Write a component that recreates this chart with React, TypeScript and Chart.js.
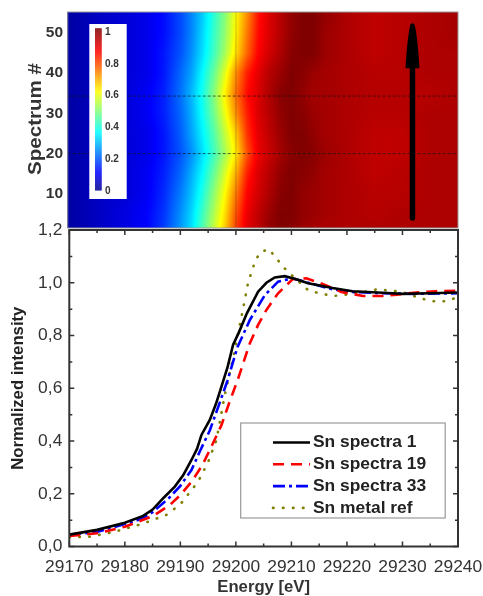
import React, { useEffect, useRef } from "react";
import { Chart, registerables } from "chart.js";

Chart.register(...registerables);

// ---------- Line panel data ----------
const blackE = [29170,29175,29180,29183.3,29185,29187,29189,29190.5,29192,29193,29193.8,29195.3,29196.4,29197.4,29198.5,29199.5,29200.5,29202,29204,29205.5,29207,29208.8,29211,29213,29217.4,29221,29226.4,29230,29235,29240];
const blackV = [0.045,0.063,0.09,0.116,0.14,0.185,0.227,0.27,0.328,0.37,0.423,0.48,0.54,0.606,0.68,0.765,0.81,0.885,0.966,1.0,1.02,1.025,1.012,0.998,0.98,0.968,0.962,0.958,0.96,0.963];
const redE = [29170,29175,29180,29185,29188,29190,29192,29194,29195.3,29197.4,29198.8,29200.3,29202.5,29204,29205.5,29207.6,29210.2,29212.7,29216.3,29219,29222.9,29226.4,29229,29232.5,29236,29240];
const redV = [0.04,0.05,0.075,0.115,0.155,0.195,0.245,0.31,0.366,0.46,0.545,0.63,0.77,0.84,0.897,0.96,1.013,1.017,0.99,0.965,0.95,0.95,0.955,0.963,0.968,0.97];
const blueE = [29170,29175,29180,29183,29185,29188,29190,29192,29193.5,29195.3,29197,29198.5,29200.3,29202.5,29205.2,29207.6,29210.2,29213,29217.4,29221,29226.4,29232,29240];
const blueV = [0.045,0.055,0.085,0.105,0.13,0.185,0.23,0.29,0.36,0.44,0.54,0.63,0.757,0.858,0.953,1.004,1.017,1.0,0.975,0.965,0.96,0.958,0.96];
const oliveE = [29170,29173.7,29178,29183,29187.5,29190,29193.2,29195,29196.5,29198,29199.8,29201,29202.2,29203.4,29204.3,29205.9,29207.3,29208.5,29210,29213,29215,29217.5,29219.3,29222.9,29225.4,29229.8,29233.4,29235.5,29237.7,29240];
const oliveV = [0.035,0.037,0.055,0.085,0.12,0.16,0.246,0.32,0.404,0.574,0.745,0.87,1.0,1.078,1.114,1.128,1.093,1.06,1.03,0.972,0.96,0.95,0.953,0.965,0.975,0.966,0.94,0.93,0.93,0.945];
const legendLabels = ["Sn spectra 1", "Sn spectra 19", "Sn spectra 33", "Sn metal ref"];

// ---------- Heat map data ----------
const heatEnergies = [29170,29175,29180,29184,29187,29190,29192,29194,29196,29198,29200,29202,29204,29206,29208,29210,29212,29214,29216,29220,29225,29230,29235,29240];
const heatSpectra = [1,5,10,15,20,25,30,35,40,45,50,55];
const row1 = [.02,.05,.08,.11,.17,.26,.33,.44,.55,.66,.80,.89,.93,.98,1.0,.99,.97,.96,.95,.95,.95,.95,.95,.95];
const row5 = [.02,.05,.08,.11,.16,.25,.32,.42,.53,.64,.78,.88,.93,.97,1.0,1.0,.98,.97,.96,.95,.94,.95,.95,.95];
const row10 = [.02,.05,.07,.10,.15,.23,.30,.39,.50,.61,.74,.86,.91,.95,.99,1.0,.98,.97,.96,.95,.94,.94,.95,.95];
const row15 = [.02,.05,.07,.10,.14,.21,.28,.36,.46,.57,.69,.83,.90,.94,.98,1.0,.99,.98,.96,.95,.93,.94,.95,.95];
const row20 = [.02,.05,.07,.09,.13,.19,.25,.33,.42,.52,.63,.78,.88,.92,.96,.99,1.0,.99,.97,.95,.93,.93,.95,.95];
const row25 = [.02,.05,.07,.09,.13,.20,.27,.35,.44,.55,.66,.81,.89,.93,.97,1.0,1.0,.98,.96,.95,.93,.93,.95,.95];
const row30 = [.02,.05,.07,.10,.14,.21,.28,.37,.47,.59,.72,.83,.90,.94,.98,1.0,.99,.97,.96,.95,.94,.94,.95,.95];
const row35 = [.02,.05,.07,.10,.14,.22,.29,.38,.49,.62,.75,.85,.90,.95,.99,1.0,.98,.96,.96,.95,.94,.94,.94,.95];
const row40 = [.02,.05,.07,.09,.13,.21,.27,.36,.46,.58,.72,.83,.89,.94,.97,1.0,.99,.97,.96,.95,.94,.94,.95,.95];
const row45 = [.02,.05,.07,.09,.13,.19,.25,.33,.42,.52,.64,.76,.86,.91,.95,.99,1.0,1.0,.97,.95,.93,.94,.95,.95];
const row50 = [.02,.05,.07,.09,.12,.18,.24,.32,.41,.50,.62,.74,.85,.90,.94,.98,1.0,1.0,.97,.95,.93,.94,.95,.96];
const row55 = [.02,.05,.07,.09,.12,.18,.24,.31,.40,.49,.61,.72,.84,.90,.94,.98,1.0,1.0,.98,.95,.93,.94,.95,.96];
const heatRows = [row1,row5,row10,row15,row20,row25,row30,row35,row40,row45,row50,row55];
const spectrumTicks = [10,20,30,40,50];
const dashedSpectra = [20, 34.3];
const colorbarLabels = ["1","0.8","0.6","0.4","0.2","0"];
const spectrumTitle = "Spectrum #";

const jetStops: [number, number[]][] = [
  [0, [0,0,143]], [0.11, [0,0,255]], [0.36, [0,255,255]], [0.61, [255,255,0]], [0.86, [255,0,0]], [1, [128,0,0]],
];
function jet(v: number) {
  const c = Math.max(0, Math.min(1, v));
  for (let i = 1; i < jetStops.length; i++) {
    if (c <= jetStops[i][0]) {
      const [a, ca] = jetStops[i-1], [b, cb] = jetStops[i];
      const t = (c - a) / (b - a);
      return `rgb(${ca.map((k, j) => Math.round(k + (cb[j] - k) * t)).join(",")})`;
    }
  }
  return "rgb(128,0,0)";
}
function seg(list: number[], v: number) {
  let i = 0;
  while (i < list.length - 2 && v > list[i + 1]) i++;
  const t = Math.max(0, Math.min(1, (v - list[i]) / (list[i + 1] - list[i])));
  return [i, t];
}
function heatAt(e: number, s: number) {
  const [i, ti] = seg(heatEnergies, e);
  const [j, tj] = seg(heatSpectra, s);
  const a = heatRows[j][i] * (1 - ti) + heatRows[j][i + 1] * ti;
  const b = heatRows[j + 1][i] * (1 - ti) + heatRows[j + 1][i + 1] * ti;
  return a * (1 - tj) + b * tj;
}

const heatPlugin = {
  id: "heat",
  beforeDatasetsDraw(chart: any) {
    const { ctx, chartArea: a, scales } = chart;
    ctx.save();
    for (let y = Math.floor(a.top); y < a.bottom; y++) {
      for (let x = Math.floor(a.left); x < a.right; x++) {
        ctx.fillStyle = jet(heatAt(scales.x.getValueForPixel(x + 0.5), scales.y.getValueForPixel(y + 0.5)));
        ctx.fillRect(x, y, 1, 1);
      }
    }
    ctx.restore();
  },
  afterDatasetsDraw(chart: any) {
    const { ctx, chartArea: a, scales } = chart;
    ctx.save();
    // arrow head
    const ax = scales.x.getPixelForValue(29231.8);
    const baseY = scales.y.getPixelForValue(41.2);
    const tipY = scales.y.getPixelForValue(52.4);
    ctx.fillStyle = "#000";
    ctx.beginPath();
    ctx.moveTo(ax - 7, baseY);
    ctx.quadraticCurveTo(ax - 5, tipY + 12, ax - 2, tipY + 1);
    ctx.quadraticCurveTo(ax, tipY - 1, ax + 2, tipY + 1);
    ctx.quadraticCurveTo(ax + 5, tipY + 12, ax + 7, baseY);
    ctx.closePath();
    ctx.fill();
    // colour bar
    const bx = 89.3, by = 24, bw = 37.4, bh = 175;
    ctx.fillStyle = "#fff";
    ctx.fillRect(bx, by, bw, bh);
    const top = 28.3, bot = 190;
    for (let y = top; y < bot; y++) {
      ctx.fillStyle = jet(1 - (y - top) / (bot - top));
      ctx.fillRect(95, y, 6.7, 1.2);
    }
    ctx.fillStyle = "#333";
    ctx.font = "bold 10px 'Liberation Sans'";
    ctx.textBaseline = "middle";
    ctx.textAlign = "left";
    colorbarLabels.forEach((t, i) => ctx.fillText(t, 105, 32 + i * 31.8));
    // frame
    ctx.strokeStyle = "#999";
    ctx.lineWidth = 1;
    ctx.strokeRect(a.left, a.top, a.right - a.left, a.bottom - a.top);
    // axis title, stretched along its length like the reference
    ctx.fillStyle = "#333";
    ctx.font = "bold 18px 'Liberation Sans'";
    ctx.textAlign = "center";
    const w = ctx.measureText(spectrumTitle).width;
    ctx.translate(36, 119);
    ctx.rotate(-Math.PI / 2);
    ctx.scale(112 / w, 1);
    ctx.fillText(spectrumTitle, 0, 0);
    ctx.restore();
  },
};

const framePlugin = {
  id: "frame",
  afterDatasetsDraw(chart: any) {
    const { ctx, chartArea: a, scales } = chart;
    ctx.save();
    ctx.strokeStyle = "#333";
    ctx.lineWidth = 2;
    ctx.strokeRect(a.left, a.top, a.right - a.left, a.bottom - a.top);
    ctx.lineWidth = 1.5;
    ctx.beginPath();
    scales.x.ticks.forEach((t: any) => {
      const p = scales.x.getPixelForValue(t.value);
      const len = t.value % 10 === 0 ? 5 : 3;
      ctx.moveTo(p, a.top); ctx.lineTo(p, a.top + len);
      ctx.moveTo(p, a.bottom); ctx.lineTo(p, a.bottom - len);
    });
    scales.y.ticks.forEach((t: any) => {
      const p = scales.y.getPixelForValue(t.value);
      const len = Math.round(t.value * 10) % 2 === 0 ? 5 : 3;
      ctx.moveTo(a.left, p); ctx.lineTo(a.left + len, p);
      ctx.moveTo(a.right, p); ctx.lineTo(a.right - len, p);
    });
    ctx.stroke();

    // legend
    const bx = 240.7, by = 423 - 215, bw = 204.5, bh = 95;
    ctx.fillStyle = "#fff";
    ctx.fillRect(bx, by, bw, bh);
    ctx.strokeStyle = "#999";
    ctx.lineWidth = 1.2;
    ctx.strokeRect(bx, by, bw, bh);
    ctx.font = "bold 17.4px 'Liberation Sans'";
    ctx.textBaseline = "middle";
    ctx.textAlign = "left";
    chart.data.datasets.forEach((d: any, i: number) => {
      const y = by + 19.5 + i * 21.8;
      ctx.strokeStyle = d.borderColor;
      ctx.lineWidth = d.borderWidth;
      ctx.lineCap = d.borderCapStyle || "butt";
      ctx.setLineDash(d.borderDash || []);
      ctx.beginPath();
      ctx.moveTo(273, y);
      ctx.lineTo(310, y);
      ctx.stroke();
      ctx.setLineDash([]);
      ctx.fillStyle = "#222";
      ctx.fillText(legendLabels[i], 313, y);
    });
    ctx.restore();
  },
};

const zip = (xs: number[], ys: number[]) => xs.map((x, i) => ({ x, y: ys[i] }));
const fontStack = "'Liberation Sans'";

export default function App() {
  const topRef = useRef<HTMLCanvasElement>(null);
  const botRef = useRef<HTMLCanvasElement>(null);
  useEffect(() => {
    const top = new Chart(topRef.current!, {
      type: "scatter",
      plugins: [heatPlugin],
      data: {
        datasets: [
          ...dashedSpectra.map((s) => ({
            data: [{ x: 29169.7, y: s }, { x: 29240, y: s }],
            showLine: true, pointRadius: 0, borderColor: "rgba(20,20,20,0.65)", borderWidth: 1, borderDash: [3, 2],
          })),
          {
            data: [{ x: 29200, y: 1.5 }, { x: 29200, y: 55.2 }],
            showLine: true, pointRadius: 0, borderColor: "rgba(40,40,40,0.25)", borderWidth: 1,
          },
          {
            data: [{ x: 29231.8, y: 4 }, { x: 29231.8, y: 42 }],
            showLine: true, pointRadius: 0, borderColor: "#000", borderWidth: 5.5, borderCapStyle: "round",
          },
        ],
      },
      options: {
        animation: false, responsive: false, devicePixelRatio: 1,
        layout: { padding: { top: 12, right: 25, left: 0, bottom: 2 } },
        plugins: { legend: { display: false }, tooltip: { enabled: false } },
        scales: {
          x: { type: "linear", min: 29169.7, max: 29240, display: false },
          y: {
            type: "linear", min: 1.5, max: 55.2,
            afterFit: (s: any) => { s.width = 67.7; s.paddingTop = 0; s.paddingBottom = 0; },
            afterBuildTicks: (s: any) => { s.ticks = spectrumTicks.map((value) => ({ value })); },
            grid: { display: false, drawTicks: false }, border: { display: false },
            ticks: { color: "#333", padding: 4.7, font: { family: fontStack, weight: "bold", size: 15.5 } },
          },
        },
      },
    } as any);
    const bot = new Chart(botRef.current!, {
      type: "scatter",
      plugins: [framePlugin],
      data: {
        datasets: [
          { label: legendLabels[0], data: zip(blackE, blackV), showLine: true, pointRadius: 0, borderColor: "#000", borderWidth: 2.6 },
          { label: legendLabels[1], data: zip(redE, redV), showLine: true, pointRadius: 0, borderColor: "#ff0000", borderWidth: 2.6, borderDash: [11, 7] },
          { label: legendLabels[2], data: zip(blueE, blueV), showLine: true, pointRadius: 0, borderColor: "#0000ff", borderWidth: 2.6, borderDash: [12, 4, 3, 4] },
          { label: legendLabels[3], data: zip(oliveE, oliveV), showLine: true, pointRadius: 0, borderColor: "#808000", borderWidth: 2.6, borderDash: [0.5, 9.5], borderCapStyle: "round" },
        ],
      },
      options: {
        animation: false, responsive: false, devicePixelRatio: 1,
        layout: { padding: { top: 15, right: 25, left: 0, bottom: 0 } },
        plugins: { legend: { display: false }, tooltip: { enabled: false } },
        scales: {
          x: {
            type: "linear", min: 29170, max: 29240,
            afterFit: (s: any) => { s.height = 49.5; s.paddingLeft = 0; s.paddingRight = 0; },
            grid: { display: false, drawTicks: false }, border: { display: false },
            ticks: {
              stepSize: 5, autoSkip: false, maxRotation: 0, color: "#333", padding: 10,
              font: { family: fontStack, size: 17.4 },
              callback: (v: any) => (v % 10 === 0 ? String(v) : ""),
            },
            title: { display: true, text: "Energy [eV]", color: "#333", padding: { top: 0, bottom: 0 }, font: { family: fontStack, weight: "bold", size: 16.7, lineHeight: 1 } },
          },
          y: {
            type: "linear", min: 0, max: 1.2,
            afterFit: (s: any) => { s.width = 69.3; s.paddingTop = 0; s.paddingBottom = 0; },
            grid: { display: false, drawTicks: false }, border: { display: false },
            ticks: {
              stepSize: 0.1, autoSkip: false, color: "#333", padding: 7,
              font: { family: fontStack, size: 17.4 },
              callback: (v: any) => (Math.round(v * 10) % 2 === 0 ? Number(v).toFixed(1).replace(".", ",") : ""),
            },
            title: { display: true, text: "Normalized intensity", color: "#222", padding: { top: 8, bottom: 0 }, font: { family: fontStack, weight: "bold", size: 16.7 } },
          },
        },
      },
    } as any);
    return () => { top.destroy(); bot.destroy(); };
  }, []);
  const common: React.CSSProperties = { position: "absolute", left: 0, filter: "blur(0.5px)" };
  return (
    <div style={{ position: "absolute", left: 0, top: 0, width: 483, height: 596, background: "#fff", overflow: "hidden" }}>
      <canvas ref={topRef} width={483} height={230} style={{ ...common, top: 0, width: 483, height: 230 }} />
      <canvas ref={botRef} width={483} height={381} style={{ ...common, top: 215, width: 483, height: 381 }} />
    </div>
  );
}
